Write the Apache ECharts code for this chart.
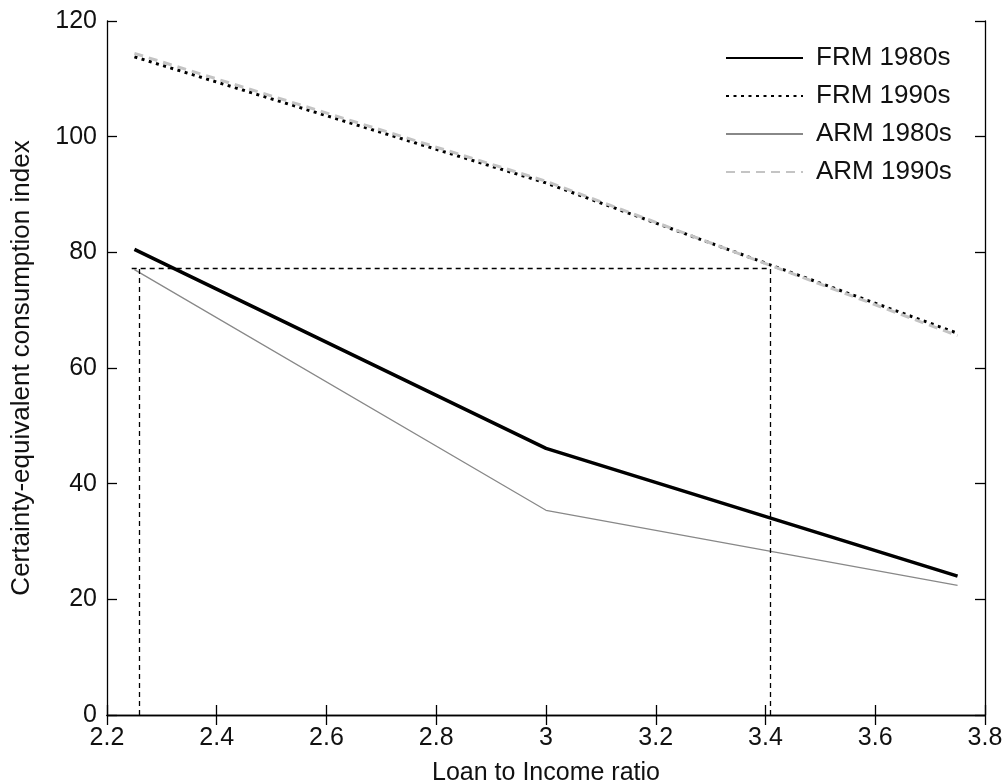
<!DOCTYPE html>
<html>
<head>
<meta charset="utf-8">
<script src="https://cdn.jsdelivr.net/npm/echarts@6/dist/echarts.min.js"></script>
<style>
  html, body { margin: 0; padding: 0; background: #fff; }
  #chart { width: 1003px; height: 783px; }
</style>
</head>
<body>
<div id="chart"></div>
<script>
// loan to income ratio (x) and certainty-equivalent index per series
var xVals = [2.25, 3.0, 3.75];
var frm1980 = [80.5, 46.1, 24.0];
var frm1990 = [113.8, 92.0, 66.0];
var arm1980 = [77.0, 35.4, 22.4];
var arm1990 = [114.4, 92.3, 65.6];
// dashed guide lines
var refX = [2.259, 3.409];
var refY = 77.2;
var refStartX = 2.245;

function pairs(ys) {
  return xVals.map(function (x, i) { return [x, ys[i]]; });
}

var font = 'Liberation Sans, Arial, sans-serif';
var txt = '#111';

var chart = echarts.init(document.getElementById('chart'));
chart.setOption({
  animation: false,
  backgroundColor: '#fff',
  grid: { left: 107, right: 18, top: 21, bottom: 68, outerBoundsMode: 'none', containLabel: false },
  legend: {
    orient: 'vertical',
    left: 720,
    top: 40,
    itemWidth: 77,
    itemHeight: 14,
    itemGap: 12,
    data: ['FRM 1980s', 'FRM 1990s', 'ARM 1980s', 'ARM 1990s'],
    itemStyle: { opacity: 0 },
    textStyle: { fontFamily: font, fontSize: 26, color: txt, padding: [0, 0, 0, 8] }
  },
  xAxis: [{
    type: 'value', min: 2.2, max: 3.8, interval: 0.2,
    name: 'Loan to Income ratio', nameLocation: 'middle', nameGap: 46,
    nameTextStyle: { fontFamily: font, fontSize: 25, color: txt },
    axisLine: { lineStyle: { color: '#000', width: 1.3 } },
    axisTick: { inside: true, length: 10, lineStyle: { color: '#000', width: 1.3 } },
    axisLabel: { fontFamily: font, fontSize: 25, color: txt, margin: 11 },
    splitLine: { show: false }
  }, {
    type: 'value', min: 2.2, max: 3.8, interval: 0.2, position: 'top',
    axisLine: { lineStyle: { color: '#000', width: 1.3 } },
    axisTick: { inside: true, length: 10, lineStyle: { color: '#000', width: 1.3 } },
    axisLabel: { show: false },
    splitLine: { show: false }
  }],
  yAxis: [{
    type: 'value', min: 0, max: 120, interval: 20,
    name: 'Certainty-equivalent consumption index', nameLocation: 'middle', nameGap: 72,
    nameTextStyle: { fontFamily: font, fontSize: 26, color: txt },
    axisLine: { show: true, lineStyle: { color: '#000', width: 1.3 } },
    axisTick: { show: true, inside: true, length: 10, lineStyle: { color: '#000', width: 1.3 } },
    axisLabel: { fontFamily: font, fontSize: 25, color: txt, margin: 10 },
    splitLine: { show: false }
  }, {
    type: 'value', min: 0, max: 120, interval: 20, position: 'right',
    axisLine: { show: true, lineStyle: { color: '#000', width: 1.3 } },
    axisTick: { show: true, inside: true, length: 10, lineStyle: { color: '#000', width: 1.3 } },
    axisLabel: { show: false },
    splitLine: { show: false }
  }],
  series: [{
    name: 'FRM 1980s', type: 'line', data: pairs(frm1980), symbol: 'none',
    color: '#000', lineStyle: { color: '#000', width: 3.5 }
  }, {
    name: 'FRM 1990s', type: 'line', data: pairs(frm1990), symbol: 'none',
    color: '#000', lineStyle: { color: '#000', width: 3, type: [3, 4.5] }
  }, {
    name: 'ARM 1980s', type: 'line', data: pairs(arm1980), symbol: 'none',
    color: '#888', lineStyle: { color: '#888', width: 1.3 }
  }, {
    name: 'ARM 1990s', type: 'line', data: pairs(arm1990), symbol: 'none',
    color: '#c4c4c4', lineStyle: { color: '#c4c4c4', width: 3, type: [9, 6] }
  }, {
    name: 'guide', type: 'line', data: [], symbol: 'none',
    markLine: {
      silent: true, symbol: ['none', 'none'], label: { show: false },
      lineStyle: { color: '#000', width: 1.3, type: [5, 4] },
      data: [
        [{ coord: [refStartX, refY] }, { coord: [refX[1], refY] }],
        [{ coord: [refX[0], 0] }, { coord: [refX[0], refY] }],
        [{ coord: [refX[1], 0] }, { coord: [refX[1], refY] }]
      ]
    }
  }]
});
</script>
</body>
</html>
